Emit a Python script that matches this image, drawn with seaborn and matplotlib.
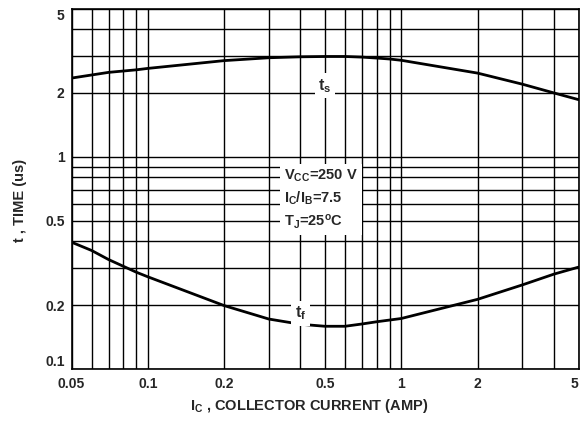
import matplotlib
matplotlib.use("Agg")
import matplotlib.pyplot as plt
import matplotlib.ticker as mticker
import seaborn as sns
import pandas as pd
import numpy as np

# ---- data ----
ic_ts = [0.05, 0.06, 0.07, 0.09, 0.1, 0.2, 0.3, 0.4, 0.5, 0.6, 0.7, 0.8, 0.9, 1.0, 2.0, 3.0, 4.0, 5.0]
ts_vals = [2.35, 2.43, 2.50, 2.57, 2.61, 2.84, 2.93, 2.96, 2.97, 2.97, 2.95, 2.92, 2.89, 2.85, 2.48, 2.20, 2.00, 1.86]

ic_tf = [0.05, 0.06, 0.07, 0.08, 0.09, 0.1, 0.2, 0.3, 0.4, 0.5, 0.6, 0.7, 0.8, 1.0, 2.0, 3.0, 4.0, 5.0]
tf_vals = [0.396, 0.362, 0.328, 0.305, 0.286, 0.272, 0.199, 0.172, 0.1625, 0.159, 0.159, 0.163, 0.167, 0.173, 0.213, 0.249, 0.280, 0.302]

x_major = [0.05, 0.1, 0.2, 0.5, 1, 2, 5]
x_major_labels = ["0.05", "0.1", "0.2", "0.5", "1", "2", "5"]
x_minor = [0.06, 0.07, 0.08, 0.09, 0.3, 0.4, 0.6, 0.7, 0.8, 0.9, 3, 4]
y_major = [0.1, 0.2, 0.5, 1, 2, 5]
y_major_labels = ["0.1", "0.2", "0.5", "1", "2", "5"]
y_minor = [0.3, 0.4, 0.6, 0.7, 0.8, 0.9, 3, 4]

df = pd.concat([
    pd.DataFrame({"ic": ic_ts, "t": ts_vals, "curve": "ts"}),
    pd.DataFrame({"ic": ic_tf, "t": tf_vals, "curve": "tf"}),
])

sns.set_style("white")
plt.rcParams["font.family"] = ["Liberation Sans", "DejaVu Sans"]
plt.rcParams["mathtext.fontset"] = "custom"
plt.rcParams["mathtext.rm"] = "Liberation Sans:bold"
plt.rcParams["mathtext.it"] = "Liberation Sans:bold"
plt.rcParams["mathtext.bf"] = "Liberation Sans:bold"
plt.rcParams["mathtext.default"] = "rm"

fig = plt.figure(figsize=(5.81, 4.30), dpi=100)
ax = fig.add_axes([71.5 / 581, 1 - 369 / 430, (578.5 - 71.5) / 581, (369 - 8.5) / 430])

sns.lineplot(data=df, x="ic", y="t", units="curve", estimator=None, sort=False,
             color="black", linewidth=2.0, ax=ax, legend=False, zorder=3)

ax.set_xscale("log")
ax.set_yscale("log")
ax.set_xlim(0.05, 5)
ax.set_ylim(0.1, 5)

ax.xaxis.set_major_locator(mticker.FixedLocator(x_major))
ax.xaxis.set_major_formatter(mticker.FixedFormatter(x_major_labels))
ax.xaxis.set_minor_locator(mticker.FixedLocator(x_minor))
ax.xaxis.set_minor_formatter(mticker.NullFormatter())
ax.yaxis.set_major_locator(mticker.FixedLocator(y_major))
ax.yaxis.set_major_formatter(mticker.FixedFormatter(y_major_labels))
ax.yaxis.set_minor_locator(mticker.FixedLocator(y_minor))
ax.yaxis.set_minor_formatter(mticker.NullFormatter())

ax.grid(True, which="both", color="black", linewidth=1.0)
ax.set_axisbelow(True)
ax.tick_params(which="both", length=0)
ax.tick_params(axis="x", pad=6, labelsize=10)
ax.tick_params(axis="y", pad=5, labelsize=10)
for lab in ax.get_xticklabels() + ax.get_yticklabels():
    lab.set_fontweight("bold")
ylabs = ax.get_yticklabels()
ylabs[-1].set_va("top")
ylabs[0].set_va("bottom")
xlabs = ax.get_xticklabels()
xlabs[-1].set_ha("right")
xlabs[0].set_ha("center")

for s in ax.spines.values():
    s.set_color("black")
    s.set_linewidth(1.2)

ax.set_xlabel("")
ax.set_ylabel("")

# curve labels
ax.text(0.50, 2.16, "t$_{s}$", ha="center", va="center", fontsize=11.5,
        fontweight="bold", bbox=dict(facecolor="white", edgecolor="none", pad=2.5), zorder=4)
ax.text(0.40, 0.183, "t$_{f}$", ha="center", va="center", fontsize=11.5,
        fontweight="bold", bbox=dict(facecolor="white", edgecolor="none", pad=2.5), zorder=4)

ax.text(0.345, 0.63, "V$_{CC}$=250 V\nI$_{C}$/I$_{B}$=7.5\nT$_{J}$=25$^{o}$C",
        ha="left", va="center", fontsize=10.5, fontweight="bold", linespacing=1.4,
        bbox=dict(facecolor="white", edgecolor="none", pad=3.0), zorder=4)

fig.text(309 / 581, 1 - 406 / 430, "I$_{C}$ , COLLECTOR CURRENT (AMP)", ha="center", va="center",
         fontsize=10.5, fontweight="bold")
fig.text(20 / 581, 1 - 200 / 430, "t , TIME (us)", ha="center", va="center", rotation=90,
         fontsize=10.5, fontweight="bold")

fig.savefig("out.png", dpi=100, facecolor="white")
